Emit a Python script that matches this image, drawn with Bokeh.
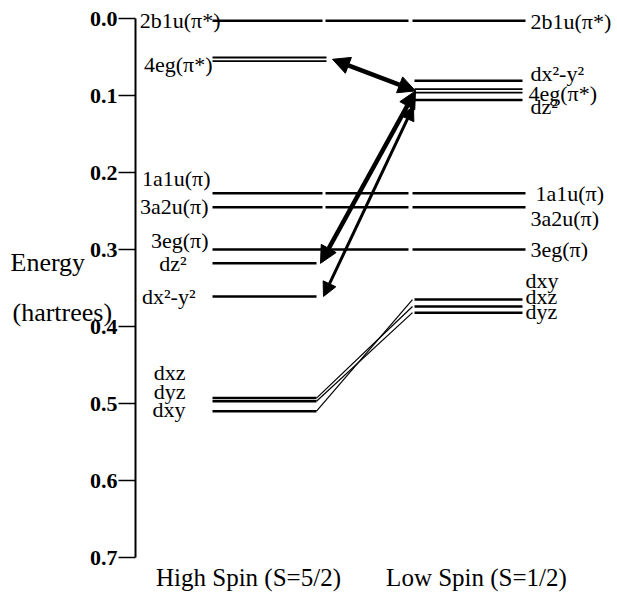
from bokeh.plotting import figure
from bokeh.models import Range1d, FixedTicker, PrintfTickFormatter, Arrow, NormalHead
from bokeh.embed import file_html
from bokeh.resources import INLINE
from bokeh.core.properties import value

# ---------------- data ----------------
orbitals = ["2b1u(π*)", "4eg(π*)", "1a1u(π)", "3a2u(π)", "3eg(π)",
            "dz²", "dx²-y²", "dxz", "dyz", "dxy"]
hs_energy = [0.003, 0.053, 0.227, 0.245, 0.300, 0.318, 0.361, 0.493, 0.497, 0.510]
ls_energy = [0.003, 0.094, 0.227, 0.245, 0.300, 0.106, 0.081, 0.374, 0.382, 0.365]
degeneracy = [1, 2, 1, 1, 1, 1, 1, 1, 1, 1]
link = ["level", "arrow", "level", "level", "level", "arrow", "arrow", "thin", "thin", "thin"]
arrow_pairs = [("4eg(π*)", "4eg(π*)"), ("dz²", "4eg(π*)"), ("dx²-y²", "dz²")]
spin_states = ["High Spin (S=5/2)", "Low Spin (S=1/2)"]
energy_ticks = [0.0, 0.1, 0.2, 0.3, 0.4, 0.5, 0.6, 0.7]
axis_title = ["Energy", "(hartrees)"]

# ---------------- layout (x data units = page pixels) ----------------
W, H = 617, 592
Y_TOP_PX, Y_BOT_PX = 18, 557          # pixel rows of 0.0 and 0.7
PX = (Y_BOT_PX - Y_TOP_PX) / 0.7      # pixels per hartree
AXIS_X = 135
HS_X0, HS_X1 = 212, 316
LS_X0, LS_X1 = 414, 522
SPIN_X = [248, 476]
FONT = "Liberation Serif"
LBL_SIZE = "22px"

# label anchors (pixels); dy positive = down
hs_right = [220, 212, 210, 208, 208, 186, 195, 185, 185, 185]
hs_dy = [0, 5, -15, -1, -9, 0, 0, -26, -10, -2]
ls_left = [530, 528, 535, 530, 530, 530, 530, 525, 525, 525]
ls_dy = [1, 3, 0, 11, 0, 6, -7, -10, -1, -19]

p = figure(width=W, height=H, output_backend="svg", toolbar_location=None,
           x_range=Range1d(0, W),
           y_range=Range1d(0.7 + (H - Y_BOT_PX) / PX, -Y_TOP_PX / PX),
           min_border_left=0, min_border_top=0, min_border_bottom=0,
           min_border_right=0)
p.outline_line_color = None
p.grid.grid_line_color = None
p.background_fill_color = "white"
p.border_fill_color = "white"

# y axis (placed inside the frame at AXIS_X)
ya = p.yaxis[0]
ya.fixed_location = AXIS_X
ya.bounds = (0.0, 0.7)
ya.ticker = FixedTicker(ticks=energy_ticks)
ya.formatter = PrintfTickFormatter(format="%.1f")
ya.axis_line_width = 2
ya.major_tick_out = 17
ya.major_tick_in = 0
ya.major_tick_line_width = 1.5
ya.minor_tick_line_color = None
ya.major_label_standoff = 1
ya.major_label_text_font = FONT
ya.major_label_text_font_style = "bold"
ya.major_label_text_font_size = "22px"
ya.major_label_text_color = "black"

# x axis: spin-state labels under the diagram
xa = p.xaxis[0]
xa.fixed_location = 0.7
xa.ticker = FixedTicker(ticks=SPIN_X)
xa.major_label_overrides = {SPIN_X[i]: spin_states[i] for i in range(2)}
xa.axis_line_color = None
xa.major_tick_line_color = None
xa.minor_tick_line_color = None
xa.major_tick_out = 0
xa.major_label_standoff = 6
xa.major_label_text_font = FONT
xa.major_label_text_font_size = "25px"
xa.major_label_text_color = "black"

# ---------------- level labels (drawn first, lines go over) ----------------
hs_lab_y = [hs_energy[i] + hs_dy[i] / PX for i in range(len(orbitals))]
p.text(x=hs_right, y=hs_lab_y, text=orbitals, text_align="right",
       text_baseline="middle", text_font=value(FONT), text_font_size=LBL_SIZE,
       text_color="black")

ls_lab_y = [ls_energy[i] + ls_dy[i] / PX for i in range(len(orbitals))]
p.text(x=ls_left, y=ls_lab_y, text=orbitals, text_align="left",
       text_baseline="middle", text_font=value(FONT), text_font_size=LBL_SIZE,
       text_color="black")

# axis title
title_x = [10, 12]
title_y = [(262 - Y_TOP_PX) / PX, (312 - Y_TOP_PX) / PX]
p.text(x=title_x, y=title_y, text=axis_title, text_align="left",
       text_baseline="middle", text_font=value(FONT), text_font_size="26px",
       text_color="black")

# ---------------- level lines ----------------
lx0, lx1, ly0, ly1, lw = [], [], [], [], []
for i, name in enumerate(orbitals):
    offs = [0.0] if degeneracy[i] == 1 else [-1.8 / PX, 1.8 / PX]
    w = 2.5 if degeneracy[i] == 1 else 1.8
    for o in offs:
        if link[i] == "level":
            segs = [(HS_X0, HS_X1 + 6), (HS_X1 + 9, LS_X0 - 6), (LS_X0 - 2, LS_X1 + 3)]
            for a, b in segs:
                lx0.append(a); lx1.append(b)
                ly0.append(hs_energy[i] + o); ly1.append(ls_energy[i] + o); lw.append(w)
        else:
            ext = 10 if name == "4eg(π*)" else 0
            lx0.append(HS_X0); lx1.append(HS_X1 + ext)
            ly0.append(hs_energy[i] + o); ly1.append(hs_energy[i] + o); lw.append(w)
            lx0.append(LS_X0); lx1.append(LS_X1)
            ly0.append(ls_energy[i] + o); ly1.append(ls_energy[i] + o); lw.append(w)

p.segment(x0=lx0, y0=ly0, x1=lx1, y1=ly1, line_color="black", line_width=lw)

# thin correlation lines for dxz, dyz, dxy
cx0, cy0, cx1, cy1 = [], [], [], []
for i in range(len(orbitals)):
    if link[i] == "thin":
        cx0.append(HS_X1); cy0.append(hs_energy[i])
        cx1.append(LS_X0 - 2); cy1.append(ls_energy[i])
p.segment(x0=cx0, y0=cy0, x1=cx1, y1=cy1, line_color="black", line_width=1.2)

# ---------------- arrows ----------------
arrow_widths = [4.5, 4.5, 3]
arrow_start_dx = [16, 4, 7]
arrow_end_dx = [1, 1, -1]
arrow_end_dy = [0, 0, 6]
head_sizes = [17, 17, 14]
for k, (hs_name, ls_name) in enumerate(arrow_pairs):
    ys = hs_energy[orbitals.index(hs_name)]
    ye = ls_energy[orbitals.index(ls_name)] + arrow_end_dy[k] / PX
    arr = Arrow(
        start=NormalHead(size=head_sizes[k], fill_color="black", line_color="black", line_width=1),
        end=NormalHead(size=head_sizes[k], fill_color="black", line_color="black", line_width=1),
        x_start=HS_X1 + arrow_start_dx[k], y_start=ys,
        x_end=LS_X0 + arrow_end_dx[k], y_end=ye,
        line_width=arrow_widths[k], line_color="black")
    p.add_layout(arr)

open("out.html", "w").write(file_html(p, INLINE))
